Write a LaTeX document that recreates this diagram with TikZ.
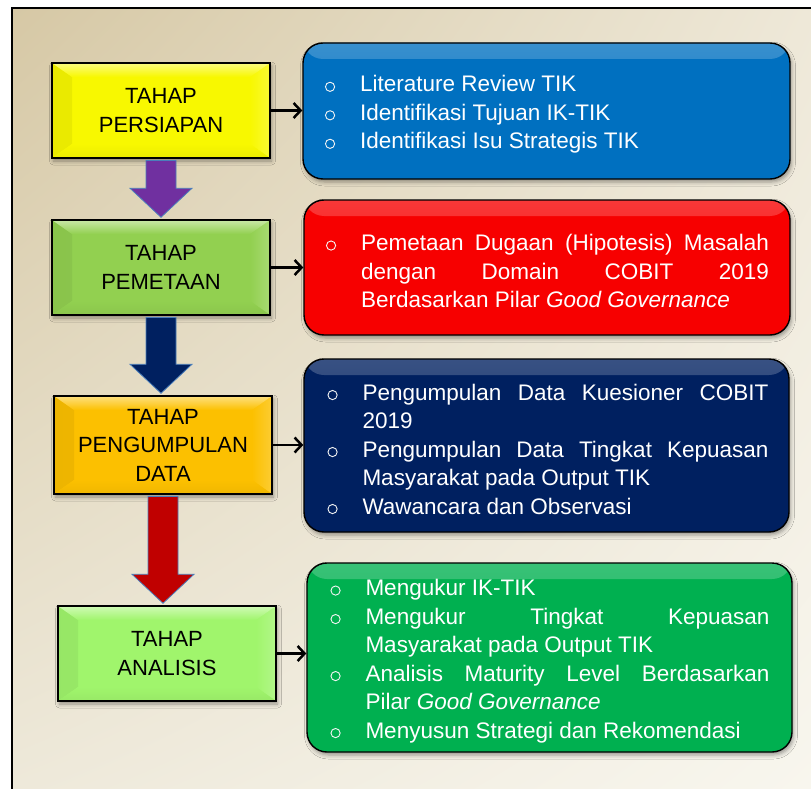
\documentclass[tikz,border=0pt]{standalone}
\usepackage{fontspec}
\setmainfont{Liberation Sans}
\usetikzlibrary{arrows.meta,calc,shadings,shadows.blur}

% page background
\definecolor{bgUL}{HTML}{D6C8A5}
\definecolor{bgUR}{HTML}{EEE8D8}
\definecolor{bgLL}{HTML}{EEE9DA}
\definecolor{bgLR}{HTML}{F8F6EE}
% stage boxes
\definecolor{cYellow}{HTML}{F8F800}
\definecolor{cLeaf}{HTML}{92D050}
\definecolor{cAmber}{HTML}{FCC000}
\definecolor{cLime}{HTML}{A0F56C}
% activity panels
\definecolor{cBlue}{HTML}{0070C0}
\definecolor{cRed}{HTML}{F70000}
\definecolor{cNavy}{HTML}{002060}
\definecolor{cGreen}{HTML}{00B050}
% block arrows
\definecolor{aPurple}{HTML}{7030A0}
\definecolor{aNavy}{HTML}{002060}
\definecolor{aRed}{HTML}{C00000}
\definecolor{aEdge}{HTML}{4A7EBB}

% hollow round bullet and a hanging-indent list entry
\newcommand{\bulletmark}{\hspace*{1pt}\tikz[baseline=0pt]\draw[white!92!gray,line width=0.9pt] (4.5pt,5pt) circle[radius=4.6pt];}
\newcommand{\pitem}[1]{\noindent\hangindent=36pt\hangafter=1\makebox[36pt][l]{\bulletmark}#1\par}
\tolerance=10000
\hbadness=10000

\begin{document}
\begin{tikzpicture}[x=1pt,y=-1pt,
  softshadow/.style={blur shadow={shadow xshift=1.5pt,shadow yshift=-3pt,
      shadow blur radius=4pt,shadow opacity=38}},
  lbox/.style={draw=black,line width=2.5pt,minimum width=218pt,minimum height=95pt,
      inner sep=0pt,align=center,font=\fontsize{22}{28.5}\selectfont,softshadow,
      fill=#1,
      path picture={
        \shade[left color=#1!94!black,right color=#1]
          (path picture bounding box.north west)
          -- ([xshift=20pt,yshift=-14pt]path picture bounding box.north west)
          -- ([xshift=20pt,yshift=14pt]path picture bounding box.south west)
          -- (path picture bounding box.south west) -- cycle;
        \shade[right color=#1!80!white,left color=#1]
          (path picture bounding box.north east)
          -- ([xshift=-20pt,yshift=-14pt]path picture bounding box.north east)
          -- ([xshift=-20pt,yshift=14pt]path picture bounding box.south east)
          -- (path picture bounding box.south east) -- cycle;
        \shade[top color=#1!50!white,bottom color=#1]
          (path picture bounding box.north west)
          -- (path picture bounding box.north east)
          -- ([xshift=-20pt,yshift=-14pt]path picture bounding box.north east)
          -- ([xshift=20pt,yshift=-14pt]path picture bounding box.north west) -- cycle;
        \shade[bottom color=#1!95!black,top color=#1]
          (path picture bounding box.south west)
          -- (path picture bounding box.south east)
          -- ([xshift=-20pt,yshift=14pt]path picture bounding box.south east)
          -- ([xshift=20pt,yshift=14pt]path picture bounding box.south west) -- cycle;
      }},
  rbox/.style={draw=black,line width=1.4pt,rounded corners=20pt,fill=#1,softshadow,
      path picture={
        \shade[top color=#1!78!white,bottom color=#1]
          (path picture bounding box.north west)
          rectangle ([yshift=-16pt]path picture bounding box.north east);
      }},
  rtext/.style={text=white,align=justify,inner sep=0pt,
      font=\fontsize{22.5}{28.5}\selectfont},
  barrow/.style={draw=aEdge,line width=0.8pt,fill=#1},
  conn/.style={draw=black,line width=2.5pt,-{Straight Barb[length=7pt,width=15pt]}}
]
\useasboundingbox (0,0) rectangle (811,789);

% framed page with a soft diagonal gradient
\fill[white] (0,0) rectangle (811,789);
\shade[upper left=bgUL,upper right=bgUR,lower left=bgLL,lower right=bgLR]
  (12,8) rectangle (811,789);
\draw[line width=2pt] (12,789) -- (12,8) -- (811,8);

% stages
\node[lbox=cYellow] (s1) at (161,110.5) {TAHAP\\PERSIAPAN};
\node[lbox=cLeaf] (s2) at (161,267.5) {TAHAP\\PEMETAAN};
\node[lbox=cAmber,minimum height=98pt] (s3) at (163,445) {TAHAP\\PENGUMPULAN\\DATA};
\node[lbox=cLime] (s4) at (167,653.5) {TAHAP\\ANALISIS};

% activity panels
\node[rbox=cBlue,minimum width=487pt,minimum height=136pt] (r1) at (546.5,111) {};
\node[rbox=cRed,minimum width=486pt,minimum height=135pt] (r2) at (547,267.5) {};
\node[rbox=cNavy,minimum width=485pt,minimum height=173pt] (r3) at (546.5,445.5) {};
\node[rbox=cGreen,minimum width=485pt,minimum height=189pt] (r4) at (549.5,657.5) {};

% activities of each stage
\node[rtext,text width=445pt] (t1) at ([yshift=-3.5pt]r1.center) {%
  \pitem{Literature Review TIK}
  \pitem{Identifikasi Tujuan IK-TIK}
  \pitem{Identifikasi Isu Strategis TIK}};
\node[rtext,text width=444pt] (t2) at ([yshift=-3.5pt]r2.center) {%
  \pitem{Pemetaan Dugaan (Hipotesis) Masalah\linebreak dengan Domain COBIT 2019\linebreak Berdasarkan Pilar \textit{Good Governance}}};
\node[rtext,text width=442pt] (t3) at ([xshift=1pt,yshift=-3.5pt]r3.center) {%
  \pitem{Pengumpulan Data Kuesioner COBIT\linebreak 2019}
  \pitem{Pengumpulan Data Tingkat Kepuasan\linebreak Masyarakat pada Output TIK}
  \pitem{Wawancara dan Observasi}};
\node[rtext,text width=440pt] (t4) at ([yshift=-3.5pt]r4.center) {%
  \pitem{Mengukur IK-TIK}
  \pitem{Mengukur Tingkat Kepuasan\linebreak Masyarakat pada Output TIK}
  \pitem{Analisis Maturity Level Berdasarkan\linebreak Pilar \textit{Good Governance}}
  \pitem{Menyusun Strategi dan Rekomendasi}};

% block arrows between consecutive stages
\newcommand{\stagearrow}[3]{%
  \draw[barrow=#3] let \p1=([yshift=-1.3pt]#1.south), \p2=([yshift=1.5pt]#2.north) in
    (\x1-15pt,\y1) -- (\x1-15pt,\y2+29pt) -- (\x1-31pt,\y2+29pt) -- (\x1,\y2)
    -- (\x1+31pt,\y2+29pt) -- (\x1+15pt,\y2+29pt) -- (\x1+15pt,\y1) -- cycle;}
\stagearrow{s1}{s2}{aPurple}
\stagearrow{s2}{s3}{aNavy}
\stagearrow{s3}{s4}{aRed}

% stage to activity connectors
\draw[conn] (s1.east) -- (s1.east -| r1.west);
\draw[conn] (s2.east) -- (s2.east -| r2.west);
\draw[conn] (s3.east) -- (s3.east -| r3.west);
\draw[conn] (s4.east) -- (s4.east -| r4.west);
\end{tikzpicture}
\end{document}
